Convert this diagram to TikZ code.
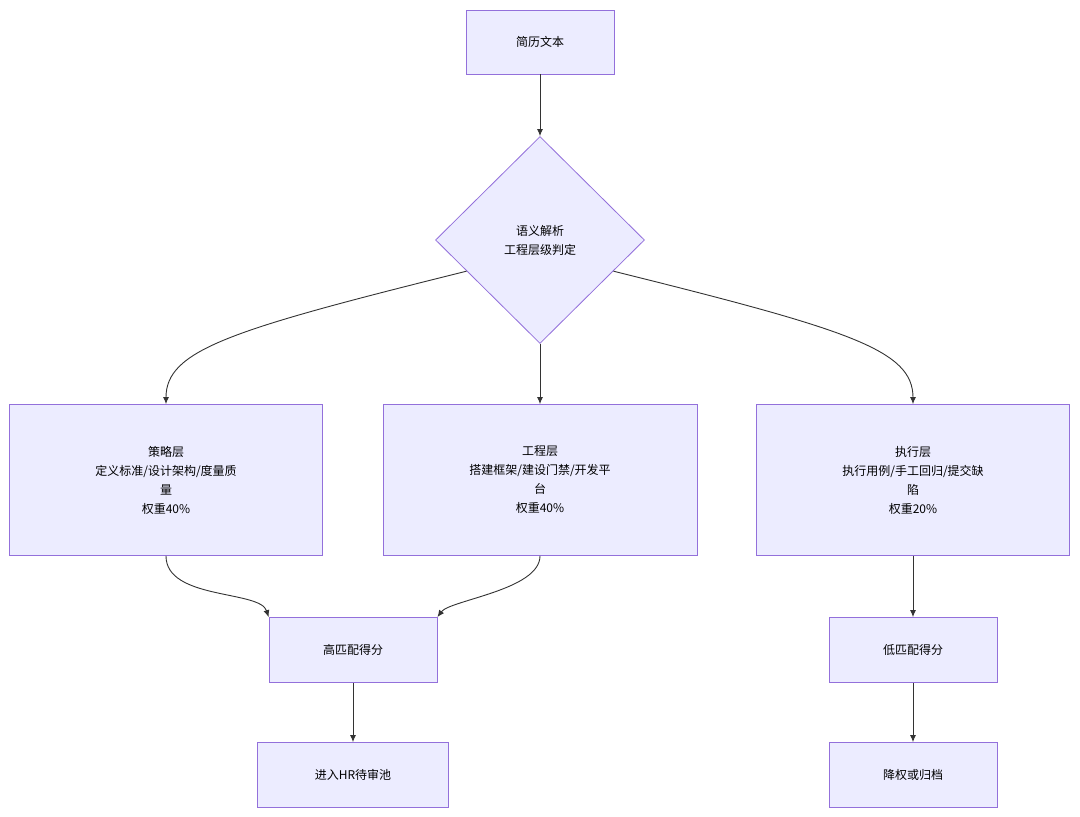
\documentclass[tikz,border=0pt]{standalone}
\usepackage{fontspec}
\setmainfont{Noto Sans CJK SC}
\usetikzlibrary{shapes.geometric,arrows.meta,calc}
\definecolor{boxfill}{HTML}{ECECFF}
\definecolor{boxline}{HTML}{9370DB}
\definecolor{linkcol}{HTML}{333333}
\begin{document}
\begin{tikzpicture}
            [x=1pt, y=-1pt, font=\fontsize{12}{19}\selectfont,
            box/.style={draw=boxline, fill=boxfill, line width=0.8pt, align=center, inner sep=0pt},
            link/.style={draw=linkcol, line width=0.9pt, -{Latex[length=7pt,width=6pt]}}]

            \useasboundingbox (0,0) rectangle (1080,817);

            \node[box, minimum width=148, minimum height=64] (cv) at (540,42) {简历文本};
            \node[box, diamond, aspect=1, minimum width=209, minimum height=207] (parse) at (540,240) {语义解析\\工程层级判定};
            \node[box, minimum width=313, minimum height=151] (strat) at (166,480) {策略层\\定义标准/设计架构/度量质\\量\\权重40\%};
            \node[box, minimum width=314, minimum height=151] (eng) at (540,480) {工程层\\搭建框架/建设门禁/开发平\\台\\权重40\%};
            \node[box, minimum width=313, minimum height=151] (exec) at (913,480) {执行层\\执行用例/手工回归/提交缺\\陷\\权重20\%};
            \node[box, minimum width=168, minimum height=65] (high) at (353,650) {高匹配得分};
            \node[box, minimum width=191, minimum height=65] (pool) at (353,775) {进入HR待审池};
            \node[box, minimum width=168, minimum height=65] (low) at (913,650) {低匹配得分};
            \node[box, minimum width=168, minimum height=65] (arch) at (913,775) {降权或归档};

            % edges
            \draw[link] (cv) -- (parse);
            \draw[link] ($(parse.west)!0.3!(parse.south)$) .. controls (230,330) and (166,350) .. (strat.north);
            \draw[link] (parse) -- (eng);
            \draw[link] ($(parse.east)!0.3!(parse.south)$) .. controls (850,330) and (913,350) .. (exec.north);
            \draw[link] (strat.south) .. controls (166,600) and (260,590) .. (high.north west);
            \draw[link] (eng.south) .. controls (540,590) and (450,600) .. (high.north east);
            \draw[link] (exec) -- (low);
            \draw[link] (high) -- (pool);
            \draw[link] (low) -- (arch);

        \end{tikzpicture}
\end{document}
